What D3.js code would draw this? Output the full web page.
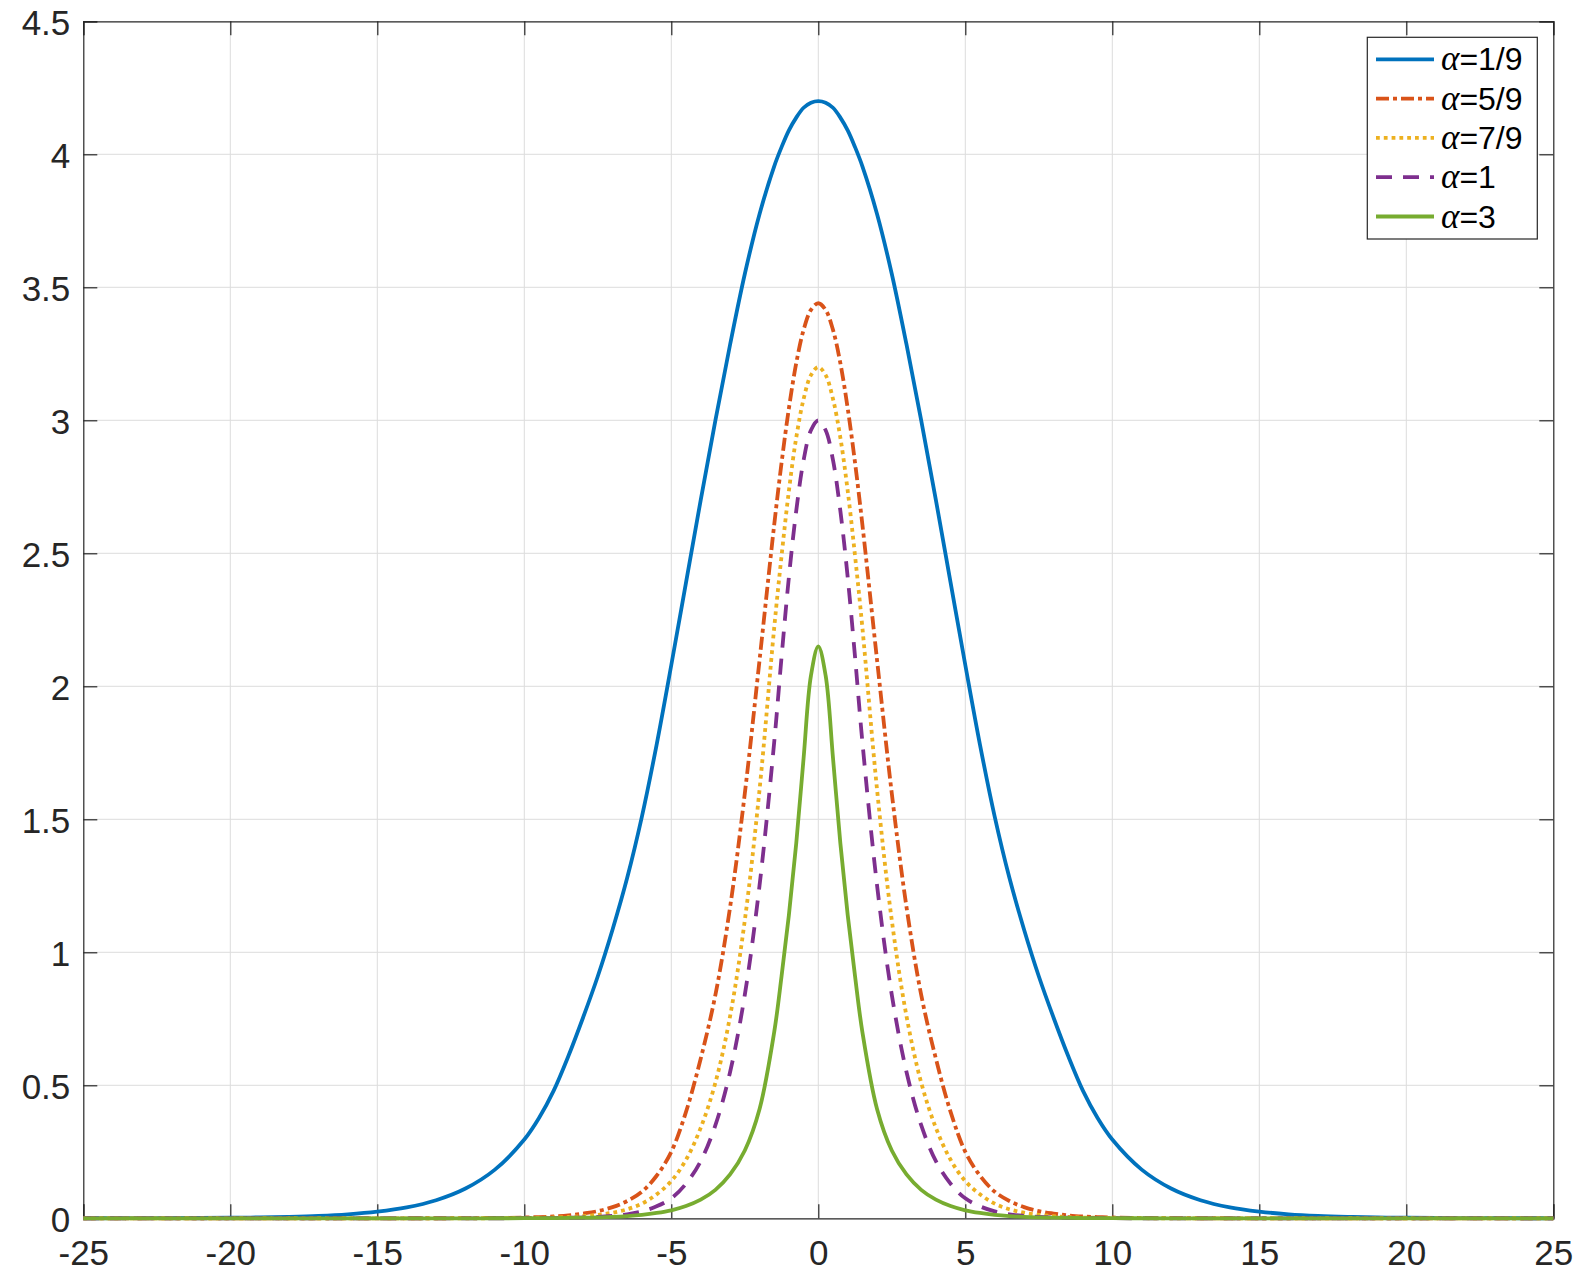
<!DOCTYPE html>
<html><head><meta charset="utf-8">
<script src="https://cdn.jsdelivr.net/npm/d3@7"></script>
<style>body{margin:0;background:#fff}</style></head>
<body><svg id="chart" width="1595" height="1279"></svg>
<script>
// x positions where the curves were read
const xValues = [-25,-22,-20,-19,-18,-17,-16,-15,-14,-13,-12,-11,-10,-9.5,-9,-8.5,-8,-7.5,-7,-6.5,-6,-5.5,-5,-4.5,-4,-3.5,-3,-2.5,-2,-1.5,-1.25,-1,-0.75,-0.5,-0.25,
  0,0.25,0.5,0.75,1,1.25,1.5,2,2.5,3,3.5,4,4.5,5,5.5,6,6.5,7,7.5,8,8.5,9,9.5,10,11,12,13,14,15,16,17,18,19,20,22,25];

const alpha1_9 = [0.00015,0.0007,0.002,0.0033,0.0055,0.009,0.015,0.025,0.041,0.068,0.112,0.183,0.296,0.377,0.48,0.61,0.755,0.91,1.085,1.28,1.51,1.78,2.08,2.39,2.70,3.0,3.285,3.55,3.775,3.955,4.027,4.09,4.138,4.175,4.194,
  4.20,
  4.194,4.175,4.138,4.09,4.027,3.955,3.775,3.55,3.285,3.0,2.70,2.39,2.08,1.78,1.51,1.28,1.085,0.91,0.755,0.61,0.48,0.377,0.296,0.183,0.112,0.068,0.041,0.025,0.015,0.009,0.0055,0.0033,0.002,0.0007,0.00015];

const alpha5_9 = [0,0,0,0,0,0,0,0,0.0001,0.0002,0.0005,0.0012,0.003,0.0045,0.007,0.011,0.018,0.027,0.042,0.065,0.10,0.16,0.25,0.40,0.60,0.84,1.17,1.597,2.097,2.607,2.84,3.045,3.215,3.34,3.415,
  3.44,
  3.415,3.34,3.215,3.045,2.84,2.607,2.097,1.597,1.17,0.84,0.60,0.40,0.25,0.16,0.10,0.065,0.042,0.027,0.018,0.011,0.007,0.0045,0.003,0.0012,0.0005,0.0002,0.0001,0,0,0,0,0,0,0,0];

const alpha7_9 = [0,0,0,0,0,0,0,0,0,0,0.0001,0.0004,0.0012,0.002,0.003,0.005,0.008,0.013,0.021,0.034,0.055,0.09,0.14,0.22,0.34,0.51,0.76,1.12,1.61,2.22,2.49,2.735,2.935,3.08,3.17,
  3.20,
  3.17,3.08,2.935,2.735,2.49,2.22,1.61,1.12,0.76,0.51,0.34,0.22,0.14,0.09,0.055,0.034,0.021,0.013,0.008,0.005,0.003,0.002,0.0012,0.0004,0.0001,0,0,0,0,0,0,0,0,0,0];

const alpha1 = [0,0,0,0,0,0,0,0,0,0,0,0.0001,0.0004,0.0006,0.001,0.002,0.003,0.005,0.009,0.015,0.026,0.045,0.075,0.13,0.215,0.35,0.55,0.84,1.25,1.79,2.11,2.41,2.66,2.85,2.9625,
  3.00,
  2.9625,2.85,2.66,2.41,2.11,1.79,1.25,0.84,0.55,0.35,0.215,0.13,0.075,0.045,0.026,0.015,0.009,0.005,0.003,0.002,0.001,0.0006,0.0004,0.0001,0,0,0,0,0,0,0,0,0,0,0];

const alpha3 = [0,0,0,0,0,0,0,0,0,0,0,0.0001,0.0004,0.0006,0.001,0.0015,0.0023,0.0035,0.0055,0.0085,0.013,0.02,0.03,0.046,0.07,0.107,0.165,0.255,0.41,0.70,0.91,1.14,1.41,1.73,2.04,
  2.15,
  2.04,1.73,1.41,1.14,0.91,0.70,0.41,0.255,0.165,0.107,0.07,0.046,0.03,0.02,0.013,0.0085,0.0055,0.0035,0.0023,0.0015,0.001,0.0006,0.0004,0.0001,0,0,0,0,0,0,0,0,0,0,0];

const seriesLabels = ["1/9", "5/9", "7/9", "1", "3"];
const xTicks = [-25,-20,-15,-10,-5,0,5,10,15,20,25];
const xTickLabels = ["-25","-20","-15","-10","-5","0","5","10","15","20","25"];
const yTicks = [0,0.5,1,1.5,2,2.5,3,3.5,4,4.5];
const yTickLabels = ["0","0.5","1","1.5","2","2.5","3","3.5","4","4.5"];

const seriesData = [alpha1_9, alpha5_9, alpha7_9, alpha1, alpha3];
const colors = ["#0072BD", "#D95319", "#EDB120", "#7E2F8E", "#77AC30"];
const dashes = [null, "13,4,4,4", "3.8,4", "16,11", null];
const LW = 3.8;

const L = 83.3, R = 1553.3, T = 21.3, B = 1218.3;
const svg = d3.select("#chart");
svg.append("rect").attr("width",1595).attr("height",1279).attr("fill","#fff");

const x = d3.scaleLinear().domain([-25,25]).range([L,R]);
const y = d3.scaleLinear().domain([0,4.5]).range([B,T]);

// grid
const grid = svg.append("g");
grid.selectAll("line.gx").data(xTicks.slice(1,-1)).join("line")
  .attr("x1",d=>x(d)).attr("x2",d=>x(d)).attr("y1",T).attr("y2",B)
  .attr("stroke","#dcdcdc").attr("stroke-width",1);
grid.selectAll("line.gy").data(yTicks.slice(1,-1)).join("line")
  .attr("y1",d=>y(d)).attr("y2",d=>y(d)).attr("x1",L).attr("x2",R)
  .attr("stroke","#dcdcdc").attr("stroke-width",1);

// axes with inward ticks
const fontTick = "'Liberation Sans', Arial, Helvetica, sans-serif";
const axB = svg.append("g").attr("transform",`translate(0,${B})`)
  .call(d3.axisBottom(x).tickValues(xTicks).tickSize(-14).tickPadding(0).tickFormat((d,i)=>xTickLabels[i]));
const axT = svg.append("g").attr("transform",`translate(0,${T})`)
  .call(d3.axisTop(x).tickValues(xTicks).tickSize(-14).tickFormat(""));
const axL = svg.append("g").attr("transform",`translate(${L},0)`)
  .call(d3.axisLeft(y).tickValues(yTicks).tickSize(-14).tickFormat((d,i)=>yTickLabels[i]));
const axR = svg.append("g").attr("transform",`translate(${R},0)`)
  .call(d3.axisRight(y).tickValues(yTicks).tickSize(-14).tickFormat(""));
[axB,axT,axL,axR].forEach(a=>{
  a.select(".domain").attr("stroke","#262626").attr("stroke-width",1.2);
  a.selectAll(".tick line").attr("stroke","#262626").attr("stroke-width",1.2);
});
axB.selectAll(".tick text").attr("font-family",fontTick).attr("font-size",35).attr("fill","#262626")
  .attr("dy",null).attr("y",47);
axL.selectAll(".tick text").attr("font-family",fontTick).attr("font-size",35).attr("fill","#262626")
  .attr("dy",null).attr("x",-13).attr("y",13);

// curves
const line = d3.line().x((d,i)=>x(xValues[i])).y(d=>y(Math.max(0,d))).curve(d3.curveCatmullRom.alpha(0.5));
seriesData.forEach((s,k)=>{
  svg.append("path").datum(s).attr("d",line)
    .attr("fill","none").attr("stroke",colors[k]).attr("stroke-width",LW)
    .attr("stroke-dasharray",dashes[k]).attr("stroke-linejoin","round");
});

// legend
const lg = svg.append("g");
lg.append("rect").attr("x",1367.3).attr("y",37.3).attr("width",170).attr("height",201.7)
  .attr("fill","#fff").attr("stroke","#262626").attr("stroke-width",1.2);
seriesLabels.forEach((lab,k)=>{
  const cy = 59.3 + k*39.3;
  lg.append("line").attr("x1",1376).attr("x2",1434).attr("y1",cy).attr("y2",cy)
    .attr("stroke",colors[k]).attr("stroke-width",LW).attr("stroke-dasharray",dashes[k]);
  const t = lg.append("text").attr("x",1441).attr("y",cy+11).attr("font-size",32)
    .attr("font-family",fontTick).attr("fill","#000");
  t.append("tspan").attr("font-family","'Liberation Serif', 'Times New Roman', serif").attr("font-style","italic").attr("font-size",35).text("α");
  t.append("tspan").text("=" + lab);
});
</script>
</body></html>
